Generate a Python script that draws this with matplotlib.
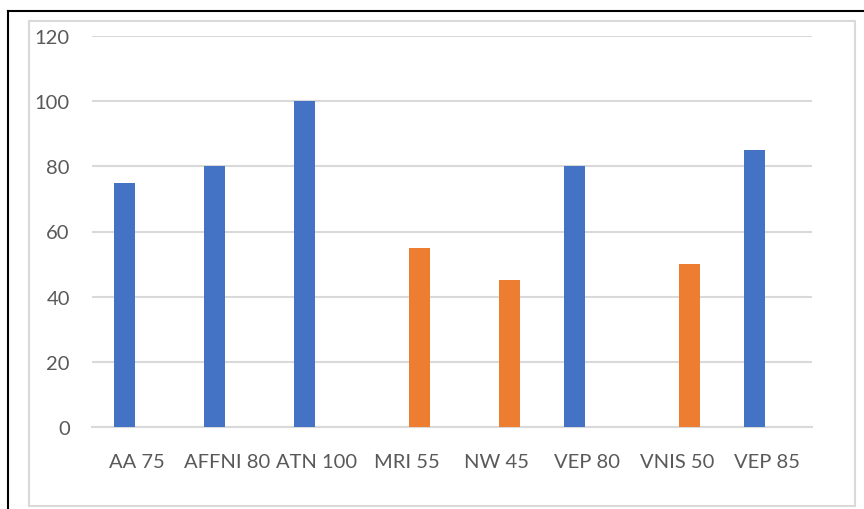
import numpy as np
import matplotlib.pyplot as plt
from matplotlib.patches import Rectangle
from matplotlib.lines import Line2D

plt.rcParams['font.family'] = ['Lato', 'DejaVu Sans']

categories = ['AA 75', 'AFFNI 80', 'ATN 100', 'MRI 55', 'NW 45', 'VEP 80', 'VNIS 50', 'VEP 85']
series_a = [75, 80, 100, np.nan, np.nan, 80, np.nan, 85]
series_b = [np.nan, np.nan, np.nan, 55, 45, np.nan, 50, np.nan]
yticks = [0, 20, 40, 60, 80, 100, 120]

blue = '#4472C4'
orange = '#ED7D31'
grid_c = '#D9D9D9'
text_c = '#595959'

fig = plt.figure(figsize=(8.64, 5.1), dpi=100)

# chart frame and the black edge lines around it
fig.add_artist(Rectangle((29/864, 3/510), 826/864, 485/510, transform=fig.transFigure,
                         fill=False, edgecolor=grid_c, lw=1.5))
fig.add_artist(Line2D([8/864, 1], [498/510, 498/510], transform=fig.transFigure, color='black', lw=1.5))
fig.add_artist(Line2D([8/864, 8/864], [0, 498/510], transform=fig.transFigure, color='black', lw=1.5))

ax = fig.add_axes([92/864, 82/510, 720/864, 391/510])
x = np.arange(len(categories))
w = 0.235
ax.bar(x - 0.135, series_a, width=w, color=blue, zorder=3)
ax.bar(x + 0.135, series_b, width=w, color=orange, zorder=3)

ax.set_xlim(-0.5, len(categories) - 0.5)
ax.set_ylim(0, 120)
ax.set_yticks(yticks)
ax.yaxis.grid(True, color=grid_c, lw=1.5, zorder=0)
ax.set_xticks(x)
ax.set_xticklabels(categories)
ax.tick_params(axis='both', length=0, labelsize=14.5, colors=text_c)
ax.tick_params(axis='y', pad=16)
ax.tick_params(axis='x', pad=19)
for s in ['top', 'right', 'left']:
    ax.spines[s].set_visible(False)
ax.spines['bottom'].set_color(grid_c)
ax.spines['bottom'].set_linewidth(1.5)

fig.savefig('out.png', dpi=100)
plt.close()
